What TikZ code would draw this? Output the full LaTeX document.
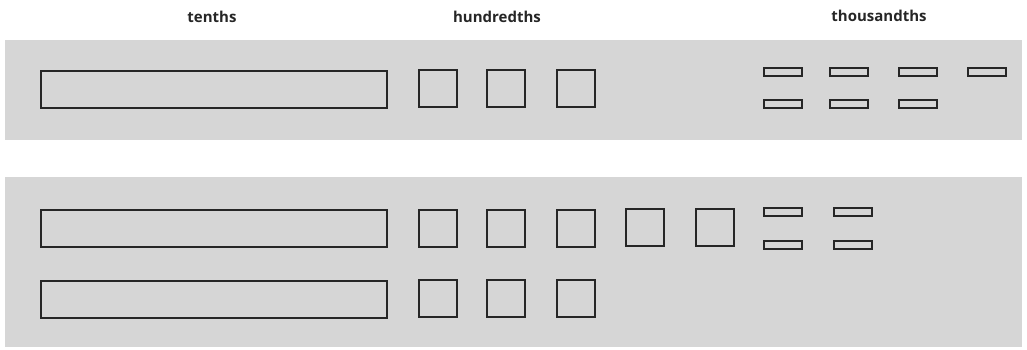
\documentclass[tikz,border=0pt]{standalone}
\usepackage{fontspec}
\setmainfont{Open Sans}
\begin{document}
\begin{tikzpicture}[x=1pt,y=-1pt,
  band/.style={fill=bandgray,draw=none},
  piece/.style={draw=black!85,line width=1.3pt,fill=none,inner sep=0pt,outer sep=0pt,anchor=north west},
  tenth/.style={piece,minimum width=346pt,minimum height=37pt},
  hundredth/.style={piece,minimum width=38pt,minimum height=37pt},
  thousandth/.style={piece,minimum width=38pt,minimum height=8pt},
  lbl/.style={font=\bfseries\fontsize{15}{17}\selectfont,text=black!85,inner sep=0pt}]
\definecolor{bandgray}{RGB}{214,214,214}
\useasboundingbox (0,0) rectangle (1027,350);
\fill[white] (0,0) rectangle (1027,350);
% bands
\fill[band] (5,40) rectangle (1022,140);
\fill[band] (5,177) rectangle (1022,347);
% labels
\node[lbl] (ltenths) at (212,17) {tenths};
\node[lbl] (lhund) at (497,17) {hundredths};
\node[lbl] (lthou) at (879,16) {thousandths};
% top band
\node[tenth] (t1) at (41,71) {};
\node[hundredth] (h1) at (419,70) {};
\node[hundredth] (h2) at (487,70) {};
\node[hundredth] (h3) at (557,70) {};
\node[thousandth] (k1) at (764,68) {};
\node[thousandth] (k2) at (830,68) {};
\node[thousandth] (k3) at (899,68) {};
\node[thousandth] (k4) at (968,68) {};
\node[thousandth] (k5) at (764,100) {};
\node[thousandth] (k6) at (830,100) {};
\node[thousandth] (k7) at (899,100) {};
% bottom band
\node[tenth] (b1) at (41,210) {};
\node[tenth] (b2) at (41,281) {};
\node[hundredth] (bh1) at (419,210) {};
\node[hundredth] (bh2) at (487,210) {};
\node[hundredth] (bh3) at (557,210) {};
\node[hundredth] (bh4) at (626,209) {};
\node[hundredth] (bh5) at (696,209) {};
\node[hundredth] (bh6) at (419,280) {};
\node[hundredth] (bh7) at (487,280) {};
\node[hundredth] (bh8) at (557,280) {};
\node[thousandth] (bk1) at (764,208) {};
\node[thousandth] (bk2) at (834,208) {};
\node[thousandth] (bk3) at (764,241) {};
\node[thousandth] (bk4) at (834,241) {};
\end{tikzpicture}
\end{document}
